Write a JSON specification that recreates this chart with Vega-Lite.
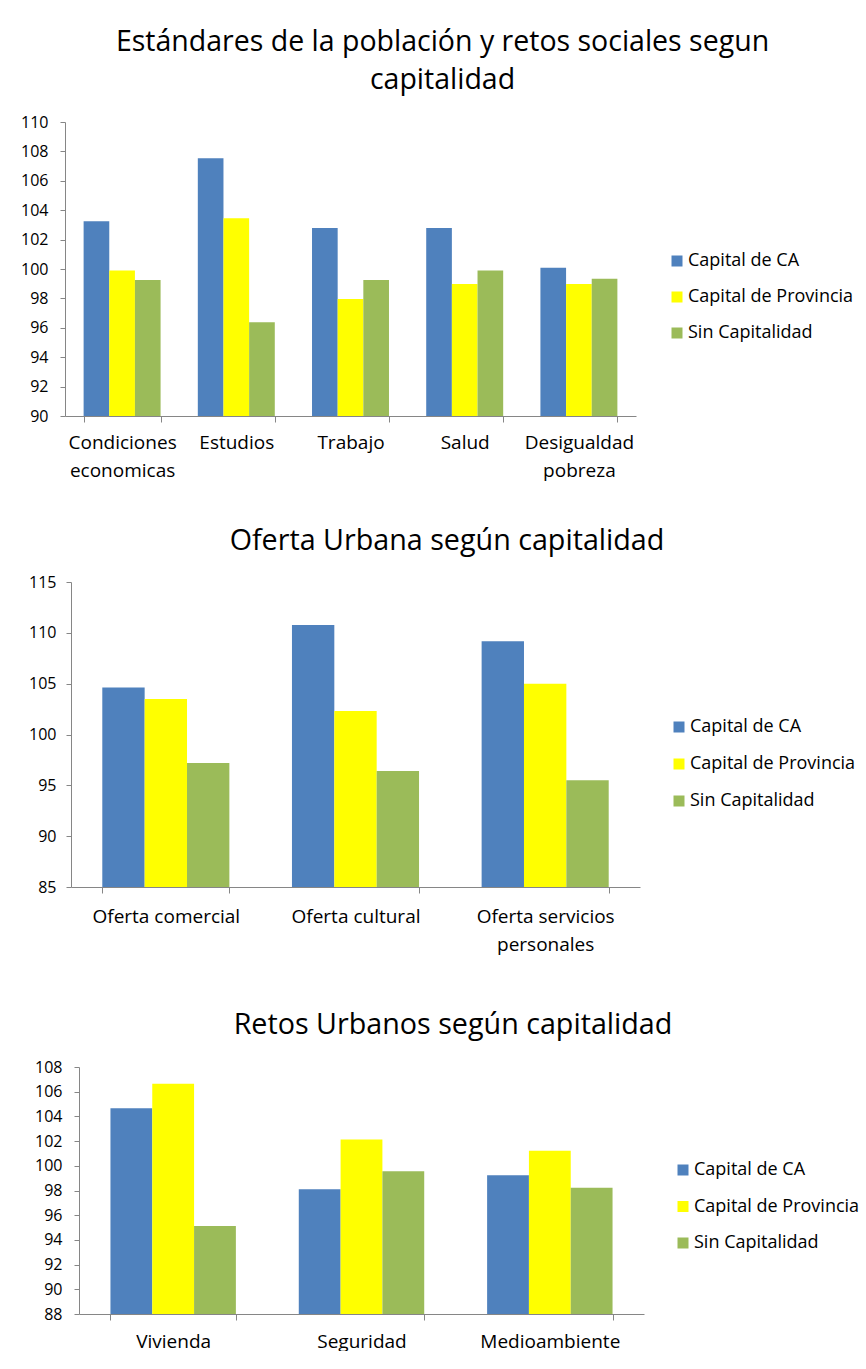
{
  "$schema": "https://vega.github.io/schema/vega-lite/v6.json",
  "background": "white",
  "padding": {"left": 5, "top": 27, "right": 0, "bottom": 0},
  "spacing": 47,
  "resolve": {"scale": {"x": "independent", "xOffset": "independent", "y": "independent", "color": "independent"}, "legend": {"color": "independent"}, "axis": {"x": "independent", "y": "independent"}},
  "config": {
    "font": "Open Sans",
    "view": {"stroke": null},
    "axis": {"labelFont": "Open Sans", "labelColor": "#000000", "domainColor": "#868686", "tickColor": "#868686", "grid": false, "title": null},
    "title": {"font": "Open Sans", "fontWeight": "normal", "color": "#000000", "anchor": "middle"},
    "legend": {"labelFont": "Open Sans", "labelColor": "#000000", "labelFontSize": 18, "labelLimit": 300, "symbolType": "square", "symbolSize": 121, "symbolStrokeWidth": 0, "labelOffset": 2, "padding": 0, "title": null}
  },
  "vconcat": [
    {
      "width": 571,
      "height": 294,
      "title": {"text": ["Estándares de la población y retos sociales segun", "capitalidad"], "fontSize": 28.5, "lineHeight": 38, "dx": 92, "offset": 20},
      "data": {"values": [
        {"categoria": "Condiciones economicas", "grupo": "Capital de CA", "valor": 103.24},
        {"categoria": "Condiciones economicas", "grupo": "Capital de Provincia", "valor": 99.9},
        {"categoria": "Condiciones economicas", "grupo": "Sin Capitalidad", "valor": 99.25},
        {"categoria": "Estudios", "grupo": "Capital de CA", "valor": 107.53},
        {"categoria": "Estudios", "grupo": "Capital de Provincia", "valor": 103.45},
        {"categoria": "Estudios", "grupo": "Sin Capitalidad", "valor": 96.37},
        {"categoria": "Trabajo", "grupo": "Capital de CA", "valor": 102.79},
        {"categoria": "Trabajo", "grupo": "Capital de Provincia", "valor": 97.96},
        {"categoria": "Trabajo", "grupo": "Sin Capitalidad", "valor": 99.25},
        {"categoria": "Salud", "grupo": "Capital de CA", "valor": 102.79},
        {"categoria": "Salud", "grupo": "Capital de Provincia", "valor": 98.98},
        {"categoria": "Salud", "grupo": "Sin Capitalidad", "valor": 99.9},
        {"categoria": "Desigualdad pobreza", "grupo": "Capital de CA", "valor": 100.09},
        {"categoria": "Desigualdad pobreza", "grupo": "Capital de Provincia", "valor": 98.98},
        {"categoria": "Desigualdad pobreza", "grupo": "Sin Capitalidad", "valor": 99.34}
      ]},
      "mark": {"type": "bar"},
      "encoding": {
        "x": {"field": "categoria", "type": "nominal", "sort": null,
          "scale": {"paddingInner": 0.326, "paddingOuter": 0.163},
          "axis": {"labelAngle": 0, "labelFontSize": 19, "labelLineHeight": 28, "labelExpr": "split(datum.label, ' ')", "tickBand": "extent", "tickSize": 6, "labelPadding": 11}},
        "xOffset": {"field": "grupo", "type": "nominal", "sort": ["Capital de CA", "Capital de Provincia", "Sin Capitalidad"]},
        "y": {"field": "valor", "type": "quantitative",
          "scale": {"domain": [90, 110], "zero": false, "nice": false},
          "axis": {"values": [90, 92, 94, 96, 98, 100, 102, 104, 106, 108, 110], "labelFontSize": 16, "tickSize": 5, "labelPadding": 12, "minExtent": 60}},
        "y2": {"datum": 90},
        "color": {"field": "grupo", "type": "nominal",
          "scale": {"domain": ["Capital de CA", "Capital de Provincia", "Sin Capitalidad"], "range": ["#4F81BD", "#FFFF00", "#9BBB59"]},
          "legend": {"orient": "none", "legendX": 603, "legendY": 130, "rowPadding": 18}}
      }
    },
    {
      "width": 575,
      "height": 305,
      "title": {"text": "Oferta Urbana según capitalidad", "fontSize": 28.7, "dx": 94.5, "offset": 18},
      "data": {"values": [
        {"categoria": "Oferta comercial", "grupo": "Capital de CA", "valor": 104.63},
        {"categoria": "Oferta comercial", "grupo": "Capital de Provincia", "valor": 103.49},
        {"categoria": "Oferta comercial", "grupo": "Sin Capitalidad", "valor": 97.2},
        {"categoria": "Oferta cultural", "grupo": "Capital de CA", "valor": 110.78},
        {"categoria": "Oferta cultural", "grupo": "Capital de Provincia", "valor": 102.31},
        {"categoria": "Oferta cultural", "grupo": "Sin Capitalidad", "valor": 96.42},
        {"categoria": "Oferta servicios personales", "grupo": "Capital de CA", "valor": 109.18},
        {"categoria": "Oferta servicios personales", "grupo": "Capital de Provincia", "valor": 104.99},
        {"categoria": "Oferta servicios personales", "grupo": "Sin Capitalidad", "valor": 95.5}
      ]},
      "mark": {"type": "bar"},
      "encoding": {
        "x": {"field": "categoria", "type": "nominal", "sort": null,
          "scale": {"paddingInner": 0.33, "paddingOuter": 0.165, "range": [6, 575]},
          "axis": {"labelAngle": 0, "labelFontSize": 19, "labelLineHeight": 28, "labelExpr": "datum.label == 'Oferta servicios personales' ? ['Oferta servicios', 'personales'] : datum.label", "tickBand": "extent", "tickSize": 6, "labelPadding": 14, "minExtent": 77}},
        "xOffset": {"field": "grupo", "type": "nominal", "sort": ["Capital de CA", "Capital de Provincia", "Sin Capitalidad"]},
        "y": {"field": "valor", "type": "quantitative",
          "scale": {"domain": [85, 115], "zero": false, "nice": false},
          "axis": {"values": [85, 90, 95, 100, 105, 110, 115], "labelFontSize": 16, "tickSize": 5, "labelPadding": 10, "minExtent": 60, "offset": -6}},
        "y2": {"datum": 85},
        "color": {"field": "grupo", "type": "nominal",
          "scale": {"domain": ["Capital de CA", "Capital de Provincia", "Sin Capitalidad"], "range": ["#4F81BD", "#FFFF00", "#9BBB59"]},
          "legend": {"orient": "none", "legendX": 605, "legendY": 136, "rowPadding": 19}}
      }
    },
    {
      "width": 579,
      "height": 247,
      "title": {"text": "Retos Urbanos según capitalidad", "fontSize": 28.7, "dx": 98.5, "offset": 19},
      "data": {"values": [
        {"categoria": "Vivienda", "grupo": "Capital de CA", "valor": 104.66},
        {"categoria": "Vivienda", "grupo": "Capital de Provincia", "valor": 106.65},
        {"categoria": "Vivienda", "grupo": "Sin Capitalidad", "valor": 95.12},
        {"categoria": "Seguridad", "grupo": "Capital de CA", "valor": 98.11},
        {"categoria": "Seguridad", "grupo": "Capital de Provincia", "valor": 102.12},
        {"categoria": "Seguridad", "grupo": "Sin Capitalidad", "valor": 99.56},
        {"categoria": "Medioambiente", "grupo": "Capital de CA", "valor": 99.24},
        {"categoria": "Medioambiente", "grupo": "Capital de Provincia", "valor": 101.21},
        {"categoria": "Medioambiente", "grupo": "Sin Capitalidad", "valor": 98.22}
      ]},
      "mark": {"type": "bar"},
      "encoding": {
        "x": {"field": "categoria", "type": "nominal", "sort": null,
          "scale": {"paddingInner": 0.334, "paddingOuter": 0.167, "range": [14, 579]},
          "axis": {"labelAngle": 0, "labelFontSize": 19, "tickBand": "extent", "tickSize": 6, "labelPadding": 12}},
        "xOffset": {"field": "grupo", "type": "nominal", "sort": ["Capital de CA", "Capital de Provincia", "Sin Capitalidad"]},
        "y": {"field": "valor", "type": "quantitative",
          "scale": {"domain": [88, 108], "zero": false, "nice": false},
          "axis": {"values": [88, 90, 92, 94, 96, 98, 100, 102, 104, 106, 108], "labelFontSize": 16, "tickSize": 5, "labelPadding": 12, "minExtent": 60, "offset": -14}},
        "y2": {"datum": 88},
        "color": {"field": "grupo", "type": "nominal",
          "scale": {"domain": ["Capital de CA", "Capital de Provincia", "Sin Capitalidad"], "range": ["#4F81BD", "#FFFF00", "#9BBB59"]},
          "legend": {"orient": "none", "legendX": 609, "legendY": 94, "rowPadding": 18.5}}
      }
    }
  ]
}
